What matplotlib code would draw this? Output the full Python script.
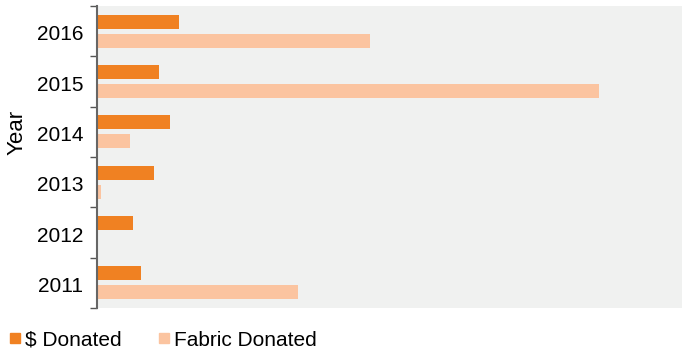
import matplotlib.pyplot as plt
from matplotlib.lines import Line2D

plt.rcParams['font.family'] = ['Liberation Sans', 'DejaVu Sans']

years = ['2011', '2012', '2013', '2014', '2015', '2016']
dollars = [440, 360, 570, 730, 620, 820]
fabric = [2010, 0, 40, 330, 5020, 2730]

orange = '#f08122'
peach = '#fbc4a0'

fig = plt.figure(figsize=(6.89, 3.52), dpi=100)
ax = fig.add_axes([97 / 689, 44 / 352, 585 / 689, 302 / 352])
ax.set_facecolor('#f0f1f0')

pos = list(range(len(years)))
ax.barh([p + 0.19 for p in pos], dollars, height=0.28, color=orange, label='$ Donated')
ax.barh([p - 0.19 for p in pos], fabric, height=0.28, color=peach, label='Fabric Donated')

ax.set_xlim(0, 5850)
ax.set_ylim(-0.5, len(years) - 0.5)
ax.set_xticks([])
ax.set_yticks([p - 0.03 for p in pos])
ax.set_yticklabels(years, fontsize=15)
ax.set_yticks([p - 0.5 for p in range(len(years) + 1)], minor=True)
ax.tick_params(axis='y', which='major', length=0, pad=10)
ax.tick_params(axis='y', which='minor', length=5, width=1, color='#555555')
for side in ['top', 'right', 'bottom']:
    ax.spines[side].set_visible(False)
ax.spines['left'].set_color('#666666')
ax.spines['left'].set_linewidth(1.5)

fig.text(0.0247, 0.625, 'Year', rotation=90, fontsize=16, ha='center', va='center')

handles = [Line2D([], [], marker='s', linestyle='none', color=orange, markersize=6.5),
           Line2D([], [], marker='s', linestyle='none', color=peach, markersize=6.5)]
fig.legend(handles, ['$ Donated', 'Fabric Donated'], loc='center left',
           bbox_to_anchor=(0.0145, 0.034), ncol=2, frameon=False, fontsize=15,
           borderpad=0, borderaxespad=0,
           handlelength=0.45, handletextpad=0.27, columnspacing=1.8)

fig.savefig('out.png', dpi=100)
